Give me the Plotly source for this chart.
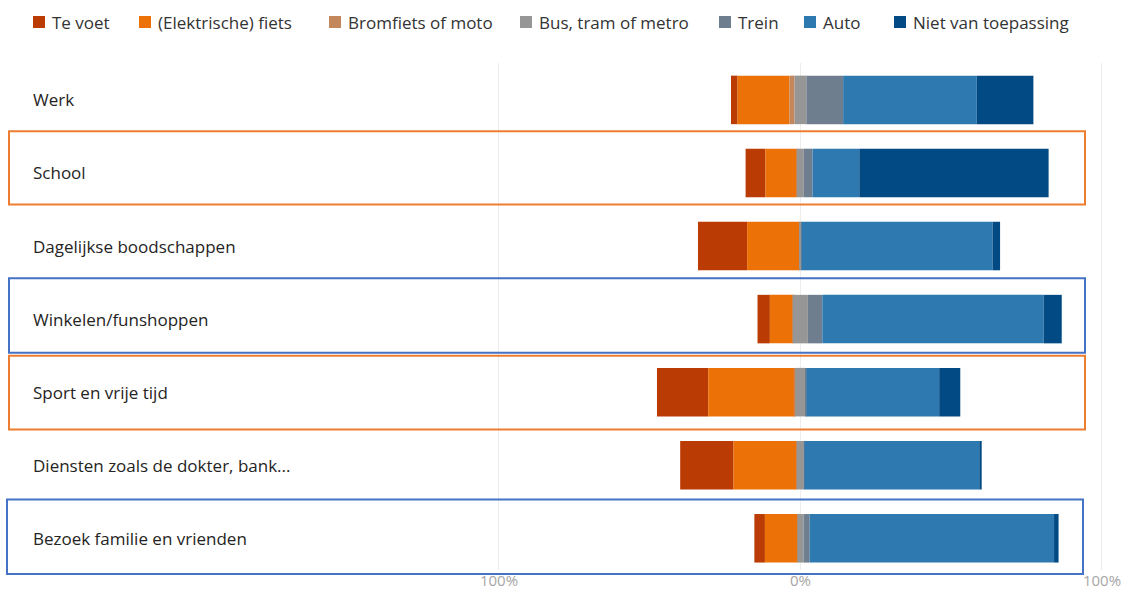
import plotly.graph_objects as go

# Share of trips per travel mode, by trip purpose (%)
categories = [
    "Werk",
    "School",
    "Dagelijkse boodschappen",
    "Winkelen/funshoppen",
    "Sport en vrije tijd",
    "Diensten zoals de dokter, bank...",
    "Bezoek familie en vrienden",
]
te_voet = [2.2, 6.6, 16.3, 4.1, 17.0, 17.7, 3.5]
fiets = [17.2, 10.2, 17.3, 7.5, 28.6, 20.8, 10.7]
bromfiets = [1.7, 0.3, 0.2, 0.2, 0.3, 0.2, 0.1]
bus_tram_metro = [3.9, 2.2, 0.4, 4.9, 3.4, 2.4, 2.0]
trein = [12.2, 2.9, 0.2, 4.8, 0.3, 0.1, 2.0]
auto = [44.3, 15.5, 63.3, 73.4, 44.0, 58.0, 81.1]
niet_van_toepassing = [18.8, 62.8, 2.5, 6.0, 7.0, 0.8, 1.5]

tick_vals = [-100, 0, 100]
tick_text = ["100%", "0%", "100%"]

series = [
    ("Te voet", te_voet, "#BA3B04"),
    ("(Elektrische) fiets", fiets, "#EC7208"),
    ("Bromfiets of moto", bromfiets, "#C4875C"),
    ("Bus, tram of metro", bus_tram_metro, "#969696"),
    ("Trein", trein, "#6E7E8F"),
    ("Auto", auto, "#2D79B0"),
    ("Niet van toepassing", niet_van_toepassing, "#024A84"),
]

# Diverging layout: the public-transport share is centred on zero, the
# modes listed before it extend to the left, the ones after to the right.
left_start = [
    -(a + b + c + d / 2)
    for a, b, c, d in zip(te_voet, fiets, bromfiets, bus_tram_metro)
]

fig = go.Figure()
running = list(left_start)
for name, values, color in series:
    fig.add_trace(go.Bar(
        y=categories, x=values, base=list(running), name=name,
        orientation="h", showlegend=False,
        marker=dict(color=color, line=dict(width=0)),
        hovertemplate="%{y}<br>" + name + ": %{x:.1f}%<extra></extra>",
    ))
    running = [r + v for r, v in zip(running, values)]

FONT = "Open Sans, Noto Sans, sans-serif"
W, H = 1129, 590
TOP, BOTTOM = 63, 20
Y_RANGE = [6.434, -0.505]


def row_to_paper(v):
    """Convert a category-axis position to a paper y coordinate."""
    frac = (v - Y_RANGE[1]) / (Y_RANGE[0] - Y_RANGE[1])
    return 1 - frac


def px_to_paper_y(p):
    return (H - BOTTOM - p) / (H - TOP - BOTTOM)


# Legend row across the top: colour swatch followed by the mode name
legend_x = [33, 139, 329, 520, 719, 804, 894]
legend_y = 22
SW = 12
for (name, _, color), lx in zip(series, legend_x):
    fig.add_shape(type="rect", xref="paper", yref="paper",
                  x0=lx / W, x1=(lx + SW) / W,
                  y0=px_to_paper_y(legend_y + SW / 2),
                  y1=px_to_paper_y(legend_y - SW / 2),
                  fillcolor=color, line=dict(width=0))
    fig.add_annotation(
        x=(lx + SW + 5) / W, xref="paper", xanchor="left",
        y=px_to_paper_y(legend_y), yref="paper", yanchor="middle",
        text=name, showarrow=False,
        font=dict(family=FONT, size=17, color="#333333"),
    )

# Category labels, left aligned
for c in categories:
    fig.add_annotation(
        x=31 / W, xref="paper", xanchor="left",
        y=c, yref="y", yanchor="middle",
        text=c, showarrow=False,
        font=dict(family=FONT, size=17, color="#252423"),
    )

# Dashed zero reference
fig.add_shape(type="line", xref="x", yref="paper", x0=0, x1=0, y0=0, y1=1,
              line=dict(color="#E4E4E4", width=1, dash="dash"), layer="below")

# Highlight boxes around selected purposes
highlights = [
    ("School", "#ED7D31", -0.57, 0.43, 9, 1085),
    ("Winkelen/funshoppen", "#4472C4", -0.56, 0.46, 9, 1085),
    ("Sport en vrije tijd", "#ED7D31", -0.50, 0.51, 9, 1085),
    ("Bezoek familie en vrienden", "#4472C4", -0.53, 0.49, 7, 1083),
]
for cat, col, top, bot, xl, xr in highlights:
    i = categories.index(cat)
    fig.add_shape(type="rect", xref="paper", yref="paper",
                  x0=xl / W, x1=xr / W,
                  y0=row_to_paper(i + top), y1=row_to_paper(i + bot),
                  line=dict(color=col, width=2), fillcolor="rgba(0,0,0,0)",
                  layer="above")

fig.update_layout(
    width=W, height=H,
    barmode="overlay", bargap=0.336,
    plot_bgcolor="white", paper_bgcolor="white",
    margin=dict(l=0, r=0, t=TOP, b=BOTTOM, autoexpand=False),
    font=dict(family=FONT, color="#333333"),
    showlegend=False,
    xaxis=dict(
        range=[-265.5, 108.96], tickvals=tick_vals, ticktext=tick_text,
        showgrid=True, gridcolor="#EDEDED", gridwidth=1, zeroline=False,
        tickfont=dict(family=FONT, size=15, color="#A6A6A6"),
        ticks="", fixedrange=True, automargin=False,
    ),
    yaxis=dict(
        range=Y_RANGE, showticklabels=False, showgrid=False,
        zeroline=False, fixedrange=True, automargin=False,
    ),
)

fig.write_html("out.html")
